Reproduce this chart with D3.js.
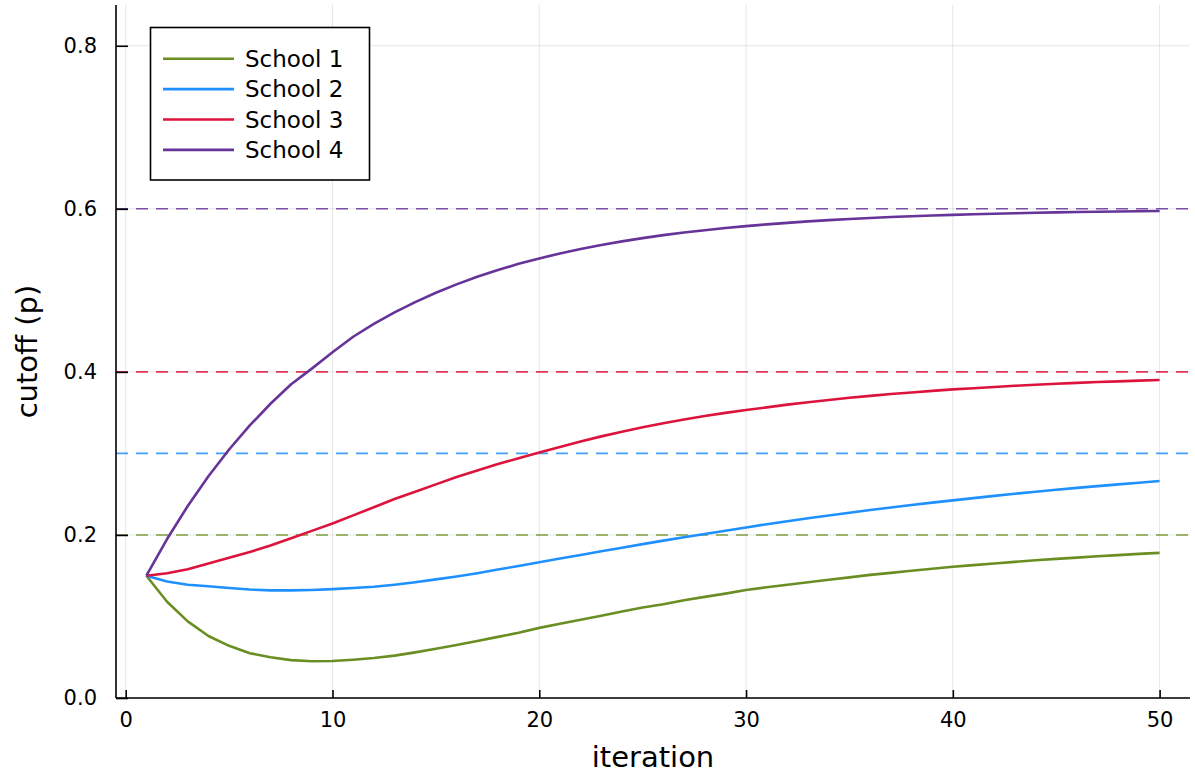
<!DOCTYPE html>
<html>
<head>
<meta charset="utf-8">
<script src="https://cdn.jsdelivr.net/npm/d3@7"></script>
<style>
  html, body { margin: 0; padding: 0; background: #fff; }
  svg { display: block; font-family: "DejaVu Sans", sans-serif; }
</style>
</head>
<body>
<svg id="chart" width="1195" height="776"></svg>
<script>
const seriesNames = ["School 1", "School 2", "School 3", "School 4"];
const seriesColors = ["#6B8E23", "#1E90FF", "#DC143C", "#663399"];
const targets = [0.2, 0.3, 0.4, 0.6];
const iterations = d3.range(1, 51);

const school1 = [0.150,0.118,0.094,0.076,0.064,0.055,0.050,0.0465,0.045,0.0453,
                 0.047,0.049,0.052,0.056,0.0605,0.065,0.070,0.075,0.080,0.086,
                 0.091,0.096,0.101,0.106,0.111,0.115,0.120,0.124,0.128,0.1325,
                 0.1358,0.139,0.142,0.145,0.148,0.151,0.1535,0.156,0.1585,0.161,
                 0.163,0.165,0.167,0.169,0.1706,0.1722,0.1738,0.1753,0.1768,0.178];
const school2 = [0.150,0.143,0.139,0.137,0.135,0.133,0.132,0.132,0.1325,0.1335,
                 0.135,0.1365,0.139,0.142,0.1455,0.149,0.153,0.1575,0.162,0.1665,
                 0.171,0.1755,0.180,0.1843,0.1887,0.193,0.1971,0.2012,0.2052,0.2092,
                 0.2131,0.2168,0.2204,0.2239,0.2273,0.2305,0.2337,0.2367,0.2396,0.2424,
                 0.2452,0.2479,0.2505,0.2530,0.2554,0.2577,0.2599,0.2620,0.2641,0.2662];
const school3 = [0.150,0.153,0.158,0.165,0.172,0.179,0.187,0.196,0.205,0.214,
                 0.224,0.234,0.244,0.253,0.262,0.271,0.279,0.287,0.294,0.301,
                 0.308,0.3147,0.3209,0.3267,0.332,0.337,0.3415,0.3458,0.3497,0.3533,
                 0.3565,0.3598,0.3628,0.3656,0.3682,0.3706,0.3728,0.3748,0.3767,0.3785,
                 0.380,0.3815,0.3829,0.3842,0.3854,0.3865,0.3875,0.3884,0.3893,0.390];
const school4 = [0.150,0.195,0.2355,0.272,0.3048,0.3343,0.3609,0.3848,0.404,0.424,
                 0.4431,0.4588,0.4729,0.4856,0.4970,0.5073,0.5166,0.5249,0.5325,0.5392,
                 0.5453,0.5508,0.5557,0.5601,0.5641,0.5677,0.5709,0.5738,0.5765,0.5788,
                 0.5809,0.5828,0.5846,0.5861,0.5875,0.5887,0.5899,0.5909,0.5918,0.5926,
                 0.5933,0.5940,0.5946,0.5951,0.5956,0.5961,0.5964,0.5968,0.5971,0.5974];
const allSeries = [school1, school2, school3, school4];

const xTicks = [0, 10, 20, 30, 40, 50];
const yTicks = [0.0, 0.2, 0.4, 0.6, 0.8];
const xLabel = "iteration";
const yLabel = "cutoff (p)";

const svg = d3.select("#chart");
const L = 116, R = 1190, T = 5, B = 698;

const x = d3.scaleLinear().domain([-0.47, 51.47]).range([L, R]);
const y = d3.scaleLinear().domain([0, 0.85]).range([B, T]);

// grid
const grid = svg.append("g");
grid.selectAll("line.gx").data(xTicks).enter().append("line")
  .attr("x1", d => x(d)).attr("x2", d => x(d)).attr("y1", T).attr("y2", B)
  .attr("stroke", "#000").attr("stroke-opacity", 0.1).attr("stroke-width", 1);
grid.selectAll("line.gy").data(yTicks).enter().append("line")
  .attr("x1", L).attr("x2", R).attr("y1", d => y(d)).attr("y2", d => y(d))
  .attr("stroke", "#000").attr("stroke-opacity", 0.1).attr("stroke-width", 1);

// target dashed lines
svg.append("g").selectAll("line").data(targets).enter().append("line")
  .attr("x1", L).attr("x2", R)
  .attr("y1", d => y(d)).attr("y2", d => y(d))
  .attr("stroke", (d, i) => seriesColors[i])
  .attr("stroke-opacity", 0.85)
  .attr("stroke-width", 1.6)
  .attr("stroke-dasharray", "12,8");

// series lines
const line = d3.line().x((d, i) => x(iterations[i])).y(d => y(d));
svg.append("g").selectAll("path").data(allSeries).enter().append("path")
  .attr("d", d => line(d))
  .attr("fill", "none")
  .attr("stroke", (d, i) => seriesColors[i])
  .attr("stroke-width", 2.6)
  .attr("stroke-linejoin", "round");

// axes
const xAxis = d3.axisBottom(x).tickValues(xTicks).tickFormat(d3.format("d"))
  .tickSizeInner(-8).tickSizeOuter(0).tickPadding(14);
const gx = svg.append("g").attr("transform", `translate(0,${B})`).call(xAxis);
gx.select(".domain").attr("stroke", "#000").attr("stroke-width", 1.6).attr("d", `M${L},0H${R}`);
gx.selectAll(".tick line").attr("stroke", "#000").attr("stroke-width", 1.6);
gx.selectAll(".tick text").attr("font-size", 21).attr("fill", "#000")
  .attr("font-family", "DejaVu Sans, sans-serif");

const yAxis = d3.axisLeft(y).tickValues(yTicks).tickFormat(d3.format(".1f"))
  .tickSizeInner(-12).tickSizeOuter(0).tickPadding(19);
const gy = svg.append("g").attr("transform", `translate(${L},0)`).call(yAxis);
gy.select(".domain").attr("stroke", "#000").attr("stroke-width", 1.6).attr("d", `M0,${T}V${B}`);
gy.selectAll(".tick line").attr("stroke", "#000").attr("stroke-width", 1.6);
gy.selectAll(".tick text").attr("font-size", 21).attr("fill", "#000")
  .attr("font-family", "DejaVu Sans, sans-serif");

// axis titles
svg.append("text").attr("x", (L + R) / 2).attr("y", 767)
  .attr("text-anchor", "middle").attr("font-size", 29).attr("fill", "#000")
  .text(xLabel);
svg.append("text")
  .attr("transform", `translate(37,${(T + B) / 2}) rotate(-90)`)
  .attr("text-anchor", "middle").attr("font-size", 29).attr("fill", "#000")
  .text(yLabel);

// legend
const lg = svg.append("g");
lg.append("rect").attr("x", 150.5).attr("y", 27.5).attr("width", 219).attr("height", 152.5)
  .attr("fill", "#fff").attr("stroke", "#000").attr("stroke-width", 1.6);
seriesNames.forEach((name, i) => {
  const yy = 58.7 + i * 30.4;
  lg.append("line").attr("x1", 163).attr("x2", 234).attr("y1", yy).attr("y2", yy)
    .attr("stroke", seriesColors[i]).attr("stroke-width", 2.6);
  lg.append("text").attr("x", 245).attr("y", yy).attr("dy", "0.36em")
    .attr("font-size", 23).attr("fill", "#000").text(name);
});
</script>
</body>
</html>
